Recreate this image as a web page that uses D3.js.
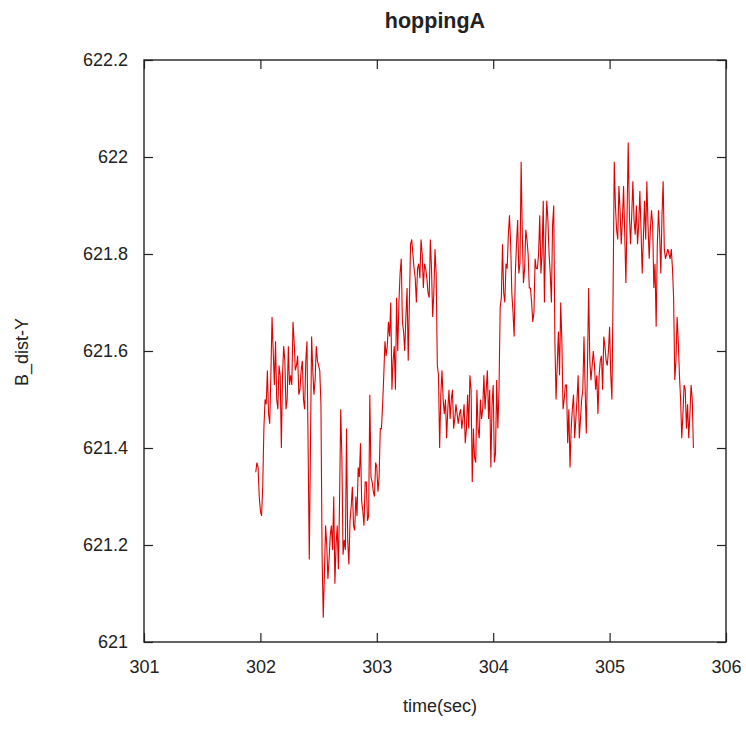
<!DOCTYPE html>
<html>
<head>
<meta charset="utf-8">
<script src="https://cdn.jsdelivr.net/npm/d3@7"></script>
<style>
  html, body { margin: 0; padding: 0; background: #fff; }
  svg text { font-family: "Liberation Sans", Arial, sans-serif; fill: #222; }
</style>
</head>
<body>
<svg id="chart" width="746" height="742"></svg>
<script>
const title = "hoppingA";
const xLabel = "time(sec)";
const yLabel = "B_dist-Y";
const xTicks = [301, 302, 303, 304, 305, 306];
const yTicks = [621, 621.2, 621.4, 621.6, 621.8, 622, 622.2];

const times = [
  301.96,301.97,301.98,301.99,302.00,302.01,302.02,302.03,302.04,302.05,
  302.06,302.07,302.08,302.09,302.10,302.11,302.12,302.13,302.14,302.15,
  302.16,302.17,302.18,302.19,302.20,302.21,302.22,302.23,302.24,302.25,
  302.26,302.27,302.28,302.29,302.30,302.31,302.32,302.33,302.34,302.35,
  302.36,302.37,302.38,302.39,302.40,302.41,302.42,302.43,302.44,302.45,
  302.46,302.47,302.48,302.49,302.50,302.51,302.52,302.53,302.54,302.55,
  302.56,302.57,302.58,302.59,302.60,302.61,302.62,302.63,302.64,302.65,
  302.66,302.67,302.68,302.69,302.70,302.71,302.72,302.73,302.74,302.75,
  302.76,302.77,302.78,302.79,302.80,302.81,302.82,302.83,302.84,302.85,
  302.86,302.87,302.88,302.89,302.90,302.91,302.92,302.93,302.94,302.95,
  302.96,302.97,302.98,302.99,303.00,303.01,303.02,303.03,303.04,303.05,
  303.06,303.07,303.08,303.09,303.10,303.11,303.12,303.13,303.14,303.15,
  303.16,303.17,303.18,303.19,303.20,303.21,303.22,303.23,303.24,303.25,
  303.26,303.27,303.28,303.29,303.30,303.31,303.32,303.33,303.34,303.35,
  303.36,303.37,303.38,303.39,303.40,303.41,303.42,303.43,303.44,303.45,
  303.46,303.47,303.48,303.49,303.50,303.51,303.52,303.53,303.54,303.55,
  303.56,303.57,303.58,303.59,303.60,303.61,303.62,303.63,303.64,303.65,
  303.66,303.67,303.68,303.69,303.70,303.71,303.72,303.73,303.74,303.75,
  303.76,303.77,303.78,303.79,303.80,303.81,303.82,303.83,303.84,303.85,
  303.86,303.87,303.88,303.89,303.90,303.91,303.92,303.93,303.94,303.95,
  303.96,303.97,303.98,303.99,304.00,304.01,304.02,304.03,304.04,304.05,
  304.06,304.07,304.08,304.09,304.10,304.11,304.12,304.13,304.14,304.15,
  304.16,304.17,304.18,304.19,304.20,304.21,304.22,304.23,304.24,304.25,
  304.26,304.27,304.28,304.29,304.30,304.31,304.32,304.33,304.34,304.35,
  304.36,304.37,304.38,304.39,304.40,304.41,304.42,304.43,304.44,304.45,
  304.46,304.47,304.48,304.49,304.50,304.51,304.52,304.53,304.54,304.55,
  304.56,304.57,304.58,304.59,304.60,304.61,304.62,304.63,304.64,304.65,
  304.66,304.67,304.68,304.69,304.70,304.71,304.72,304.73,304.74,304.75,
  304.76,304.77,304.78,304.79,304.80,304.81,304.82,304.83,304.84,304.85,
  304.86,304.87,304.88,304.89,304.90,304.91,304.92,304.93,304.94,304.95,
  304.96,304.97,304.98,304.99,305.00,305.01,305.02,305.03,305.04,305.05,
  305.06,305.07,305.08,305.09,305.10,305.11,305.12,305.13,305.14,305.15,
  305.16,305.17,305.18,305.19,305.20,305.21,305.22,305.23,305.24,305.25,
  305.26,305.27,305.28,305.29,305.30,305.31,305.32,305.33,305.34,305.35,
  305.36,305.37,305.38,305.39,305.40,305.41,305.42,305.43,305.44,305.45,
  305.46,305.47,305.48,305.49,305.50,305.51,305.52,305.53,305.54,305.55,
  305.56,305.57,305.58,305.59,305.60,305.61,305.62,305.63,305.64,305.65,
  305.66,305.67,305.68,305.69,305.70,305.71,305.72
];

const distY = [
  621.35,621.37,621.36,621.30,621.27,621.26,621.32,621.44,621.50,621.49,
  621.56,621.47,621.45,621.55,621.67,621.60,621.53,621.62,621.50,621.48,
  621.57,621.55,621.40,621.55,621.61,621.58,621.48,621.50,621.61,621.53,
  621.55,621.53,621.66,621.62,621.56,621.57,621.59,621.51,621.52,621.56,
  621.58,621.50,621.48,621.58,621.62,621.40,621.17,621.40,621.63,621.56,
  621.51,621.54,621.61,621.58,621.57,621.56,621.49,621.18,621.05,621.14,
  621.24,621.20,621.13,621.17,621.22,621.24,621.19,621.30,621.12,621.20,
  621.24,621.15,621.29,621.48,621.38,621.18,621.21,621.19,621.44,621.21,
  621.16,621.25,621.28,621.32,621.24,621.23,621.30,621.26,621.36,621.34,
  621.41,621.29,621.27,621.24,621.33,621.33,621.25,621.26,621.51,621.34,
  621.33,621.31,621.30,621.37,621.36,621.31,621.34,621.44,621.44,621.49,
  621.55,621.62,621.59,621.61,621.66,621.63,621.70,621.52,621.58,621.61,
  621.52,621.71,621.60,621.70,621.76,621.79,621.66,621.64,621.60,621.67,
  621.73,621.58,621.70,621.82,621.83,621.80,621.77,621.75,621.70,621.77,
  621.78,621.75,621.83,621.80,621.73,621.78,621.77,621.75,621.72,621.71,
  621.83,621.77,621.67,621.72,621.81,621.76,621.57,621.55,621.40,621.51,
  621.56,621.50,621.47,621.50,621.42,621.48,621.52,621.46,621.50,621.52,
  621.44,621.46,621.49,621.47,621.45,621.47,621.48,621.44,621.46,621.49,
  621.41,621.44,621.51,621.44,621.55,621.52,621.33,621.44,621.38,621.37,
  621.52,621.44,621.42,621.50,621.46,621.48,621.55,621.48,621.52,621.56,
  621.46,621.52,621.36,621.49,621.53,621.37,621.39,621.54,621.44,621.52,
  621.69,621.71,621.82,621.72,621.70,621.78,621.77,621.84,621.88,621.82,
  621.72,621.68,621.63,621.76,621.82,621.87,621.76,621.78,621.99,621.84,
  621.74,621.77,621.85,621.83,621.80,621.73,621.73,621.70,621.66,621.68,
  621.79,621.77,621.77,621.80,621.88,621.76,621.80,621.91,621.70,621.83,
  621.91,621.87,621.80,621.76,621.70,621.86,621.90,621.62,621.50,621.57,
  621.64,621.55,621.70,621.62,621.48,621.50,621.53,621.53,621.41,621.48,
  621.36,621.44,621.48,621.51,621.42,621.46,621.50,621.55,621.42,621.46,
  621.50,621.52,621.63,621.52,621.43,621.57,621.73,621.58,621.54,621.57,
  621.60,621.57,621.52,621.55,621.47,621.55,621.58,621.59,621.52,621.63,
  621.61,621.58,621.57,621.60,621.65,621.55,621.50,621.72,621.99,621.90,
  621.85,621.83,621.94,621.89,621.82,621.87,621.94,621.84,621.74,621.88,
  622.03,621.88,621.82,621.88,621.95,621.87,621.84,621.90,621.82,621.86,
  621.93,621.85,621.76,621.83,621.91,621.83,621.95,621.86,621.79,621.85,
  621.89,621.86,621.73,621.78,621.65,621.82,621.89,621.84,621.76,621.88,
  621.95,621.81,621.79,621.80,621.81,621.80,621.79,621.81,621.77,621.71,
  621.54,621.58,621.67,621.62,621.55,621.50,621.42,621.47,621.53,621.52,
  621.44,621.49,621.42,621.47,621.53,621.50,621.40
];

const svg = d3.select("#chart");
const mLeft = 144, mRight = 726, mTop = 60, mBottom = 642;

const x = d3.scaleLinear().domain([301, 306]).range([mLeft, mRight]);
const y = d3.scaleLinear().domain([621, 622.2]).range([mBottom, mTop]);

const tickLen = 9;
const fmt = d => String(+d.toFixed(1));

const axB = svg.append("g").attr("transform", `translate(0,${mBottom})`)
  .call(d3.axisBottom(x).tickValues(xTicks).tickSize(-tickLen).tickPadding(18).tickFormat(fmt));
const axT = svg.append("g").attr("transform", `translate(0,${mTop})`)
  .call(d3.axisTop(x).tickValues(xTicks).tickSize(-tickLen).tickFormat(""));
const axL = svg.append("g").attr("transform", `translate(${mLeft},0)`)
  .call(d3.axisLeft(y).tickValues(yTicks).tickSize(-tickLen).tickPadding(16).tickFormat(fmt));
const axR = svg.append("g").attr("transform", `translate(${mRight},0)`)
  .call(d3.axisRight(y).tickValues(yTicks).tickSize(-tickLen).tickFormat(""));

[axB, axT, axL, axR].forEach(g => {
  g.select(".domain").remove();
  g.selectAll(".tick line").attr("stroke", "#222").attr("stroke-width", 1.2);
  g.selectAll(".tick text").attr("font-size", 18).attr("fill", "#222")
    .style("font-family", "'Liberation Sans', Arial, sans-serif");
});

svg.append("rect")
  .attr("x", mLeft).attr("y", mTop)
  .attr("width", mRight - mLeft).attr("height", mBottom - mTop)
  .attr("fill", "none").attr("stroke", "#222").attr("stroke-width", 1.4);

const pts = times.map((t, i) => [t, distY[i]]);
svg.append("path")
  .datum(pts)
  .attr("fill", "none")
  .attr("stroke", "#e00000")
  .attr("stroke-width", 1.1)
  .attr("d", d3.line().x(d => x(d[0])).y(d => y(d[1])));

svg.append("text")
  .attr("x", 435).attr("y", 28)
  .attr("text-anchor", "middle").attr("font-size", 21.5).attr("font-weight", "bold")
  .text(title);

svg.append("text")
  .attr("x", 440).attr("y", 712)
  .attr("text-anchor", "middle").attr("font-size", 18)
  .text(xLabel);

svg.append("text")
  .attr("transform", `translate(28,352) rotate(-90)`)
  .attr("text-anchor", "middle").attr("font-size", 18)
  .text(yLabel);
</script>
</body>
</html>
